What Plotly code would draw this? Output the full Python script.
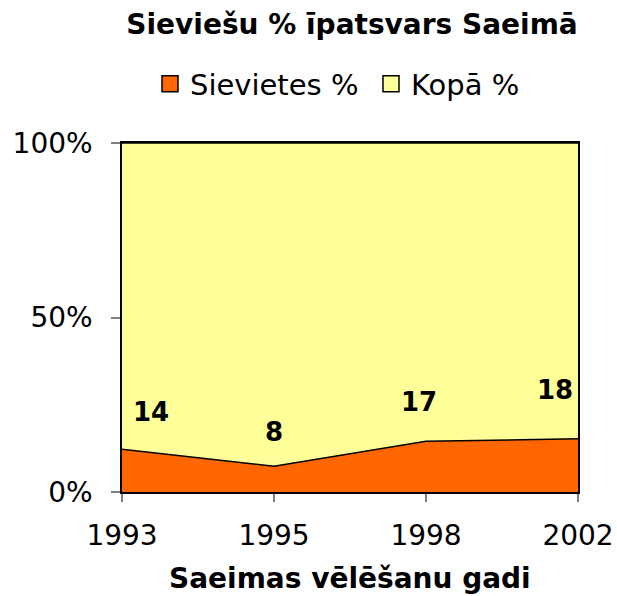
import plotly.graph_objects as go

years = ["1993", "1995", "1998", "2002"]
sievietes = [14, 8, 17, 18]
kopa = [100, 100, 100, 100]
series_names = ["Sievietes %", "Kopā %"]
series_colors = ["#FF6600", "#FFFF99"]
label_xshift = [29, 0, -7, -23]
label_yshift = [37, 34, 39, 49]

font_family = "DejaVu Sans, Liberation Sans, Arial, sans-serif"

fig = go.Figure()
for vals, name, col in zip([sievietes, kopa], series_names, series_colors):
    fig.add_trace(go.Scatter(
        x=years, y=vals, name=name, mode="lines",
        stackgroup="one", groupnorm="percent", showlegend=False,
        line=dict(color="black", width=1.5), fillcolor=col,
    ))
# legend entries as bordered squares
for name, col in zip(series_names, series_colors):
    fig.add_trace(go.Scatter(
        x=[None], y=[None], mode="markers", name=name,
        marker=dict(symbol="square", size=18, color=col, line=dict(color="black", width=1.5)),
    ))

for i, (s, k) in enumerate(zip(sievietes, kopa)):
    fig.add_annotation(
        x=i, y=s / (s + k) * 100, xref="x", yref="y", text=f"<b>{s}</b>", showarrow=False,
        xshift=label_xshift[i], yshift=label_yshift[i],
        font=dict(family=font_family, size=26, color="black"),
    )

fig.add_annotation(
    text="<b>Saeimas vēlēšanu gadi</b>", xref="paper", yref="paper",
    x=0.5, y=-0.249, xanchor="center", yanchor="middle", showarrow=False,
    font=dict(family=font_family, size=28, color="black"),
)

fig.update_layout(
    width=617, height=596,
    margin=dict(l=122, r=39, t=143, b=104),
    paper_bgcolor="white", plot_bgcolor="white",
    title=dict(text="<b>Sieviešu % īpatsvars Saeimā</b>", x=0.5705, xanchor="center",
               y=0.9597, yanchor="middle",
               font=dict(family=font_family, size=28, color="black")),
    legend=dict(orientation="h", x=0.0614, xanchor="left", y=1.169, yanchor="middle",
                font=dict(family=font_family, size=29, color="black"),
                traceorder="normal", itemwidth=30, entrywidth=176, entrywidthmode="pixels"),
    showlegend=True,
    xaxis=dict(type="category", range=[0, 3], showgrid=False, automargin=False,
               ticks="outside", ticklen=8, tickcolor="#808080", tickwidth=1.5,
               showline=True, linecolor="black", linewidth=1.5, mirror=True,
               ticklabelstandoff=10,
               tickfont=dict(family=font_family, size=28, color="black")),
    yaxis=dict(range=[0, 100], tickvals=[0, 50, 100], ticktext=["0%", "50%", "100%"],
               showgrid=False, automargin=False,
               ticks="outside", ticklen=9, tickcolor="#808080", tickwidth=1.5,
               showline=True, linecolor="black", linewidth=1.5, mirror=True,
               ticklabelstandoff=13,
               tickfont=dict(family=font_family, size=28, color="black")),
)

fig.write_html("out.html", config={"displayModeBar": False},
               post_script="document.body.style.margin='0';")
